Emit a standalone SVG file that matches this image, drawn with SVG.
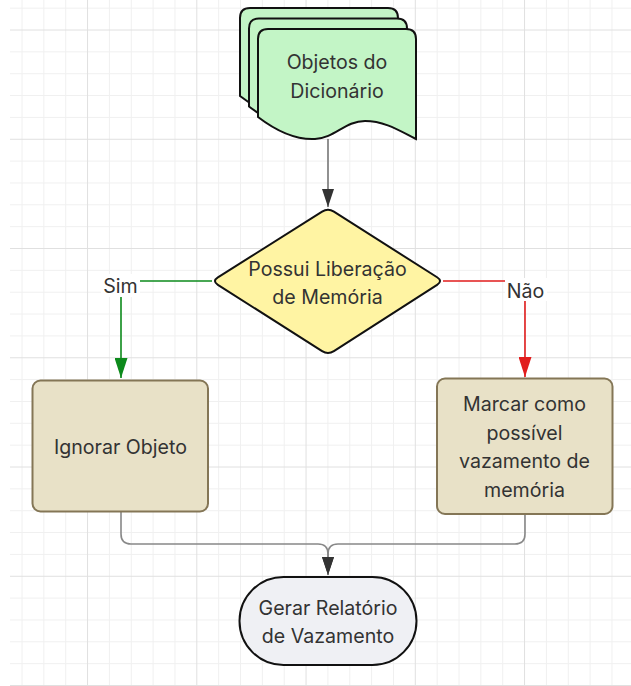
<svg xmlns="http://www.w3.org/2000/svg" width="631" height="686" viewBox="0 0 631 686">
<style>
.minor{stroke:#f0f0f0;stroke-width:1;fill:none}
.major{stroke:#e0e0e0;stroke-width:1;fill:none}
.lbl{font-family:Inter,"Liberation Sans",sans-serif;font-size:19.6px;fill:#333;text-anchor:middle}
.doc{fill:#c3f5c6;stroke:#111;stroke-width:2}
.proc{fill:#e8e1c7;stroke:#847656;stroke-width:2}
.conn{fill:none;stroke-width:1.6}
</style>
<defs>
<path id="docshape" d="M258,39 Q258,29 268,29 L406,29 Q416,29 416,39 L416,139 C400,131 385,121 365,121 C345,121 335,138 315,139 C295,140 275,130 258,117 Z"/>
<marker id="ahDark" markerUnits="userSpaceOnUse" markerWidth="18" markerHeight="12" refX="18" refY="6" orient="auto"><path d="M0,0 L18,6 L0,12 Z" fill="#333"/></marker>
<marker id="ahGreen" markerUnits="userSpaceOnUse" markerWidth="20" markerHeight="13" refX="20" refY="6.5" orient="auto"><path d="M0,0 L20,6.5 L0,13 Z" fill="#0d8a1c"/></marker>
<marker id="ahRed" markerUnits="userSpaceOnUse" markerWidth="20" markerHeight="13" refX="20" refY="6.5" orient="auto"><path d="M0,0 L20,6.5 L0,13 Z" fill="#e11d1d"/></marker>
</defs>
<rect x="0" y="0" width="631" height="686" fill="#fff"/>
<g id="grid">
<path class="minor" d="M22,0V686M43.85,0V686M65.7,0V686M109.4,0V686M131.25,0V686M153.1,0V686M174.95,0V686M218.65,0V686M240.5,0V686M262.35,0V686M284.2,0V686M327.9,0V686M349.75,0V686M371.6,0V686M393.45,0V686M437.15,0V686M459,0V686M480.85,0V686M502.7,0V686M546.4,0V686M568.25,0V686M590.1,0V686M611.95,0V686M10,8.15H631M10,51.85H631M10,73.7H631M10,95.55H631M10,117.4H631M10,161.1H631M10,182.95H631M10,204.8H631M10,226.65H631M10,270.35H631M10,292.2H631M10,314.05H631M10,335.9H631M10,379.6H631M10,401.45H631M10,423.3H631M10,445.15H631M10,488.85H631M10,510.7H631M10,532.55H631M10,554.4H631M10,598.1H631M10,619.95H631M10,641.8H631M10,663.65H631"/>
<path class="major" d="M87.55,0V686M196.8,0V686M306.05,0V686M415.3,0V686M524.55,0V686M10,30H631M10,139.25H631M10,248.5H631M10,357.75H631M10,467H631M10,576.25H631M10,685.5H631"/>
</g>
<g id="connectors">
<path class="conn" d="M328,139 L328,207" stroke="#777" marker-end="url(#ahDark)"/>
<path class="conn" d="M212,281 L121,281 L121,378" stroke="#0d8a1c" stroke-width="2" marker-end="url(#ahGreen)"/>
<path class="conn" d="M443,281 L525,281 L525,377" stroke="#e11d1d" stroke-width="2" marker-end="url(#ahRed)"/>
<path class="conn" d="M121,512 L121,534 Q121,544 131,544 L318,544 Q328,544 328,554 L328,575" stroke="#888" marker-end="url(#ahDark)"/>
<path class="conn" d="M525,514 L525,534 Q525,544 515,544 L338,544 Q328,544 328,554 L328,575" stroke="#888" marker-end="url(#ahDark)"/>
<g id="label-sim">
<rect x="101" y="274" width="39" height="23" fill="#fff"/>
<text class="lbl" x="120.5" y="293">Sim</text>
</g>
<g id="label-nao">
<rect x="505" y="278" width="42" height="23" fill="#fff"/>
<text class="lbl" x="525.5" y="297.5">Não</text>
</g>
</g>
<g id="node-objetos">
<use href="#docshape" class="doc" transform="translate(-18,-21)"/>
<use href="#docshape" class="doc" transform="translate(-9,-10.5)"/>
<use href="#docshape" class="doc"/>
<text class="lbl" x="337" y="69">Objetos do</text>
<text class="lbl" x="337" y="97.5">Dicionário</text>
</g>
<g id="node-decisao">
<path d="M322.1,211.7 Q328,208 333.9,211.7 L437.1,277.25 Q443,281 437.1,284.8 L333.9,351.2 Q328,355 322.1,351.2 L217.9,284.8 Q212,281 217.9,277.3 Z" fill="#fff4a3" stroke="#111" stroke-width="2"/>
<text class="lbl" x="327.5" y="275.5">Possui Liberação</text>
<text class="lbl" x="327.5" y="304">de Memória</text>
</g>
<g id="node-ignorar">
<rect class="proc" x="32.5" y="380.5" width="175.5" height="131" rx="8"/>
<text class="lbl" x="120.5" y="453.5">Ignorar Objeto</text>
</g>
<g id="node-marcar">
<rect class="proc" x="437" y="378.5" width="175.5" height="135.5" rx="8"/>
<text class="lbl" x="524.5" y="411">Marcar como</text>
<text class="lbl" x="524.5" y="439.5">possível</text>
<text class="lbl" x="524.5" y="468">vazamento de</text>
<text class="lbl" x="524.5" y="496.5">memória</text>
</g>
<g id="node-gerar">
<rect x="239.5" y="577" width="177" height="88" rx="44" fill="#eff0f4" stroke="#111" stroke-width="2"/>
<text class="lbl" x="328" y="614.5">Gerar Relatório</text>
<text class="lbl" x="328" y="643">de Vazamento</text>
</g>
</svg>
